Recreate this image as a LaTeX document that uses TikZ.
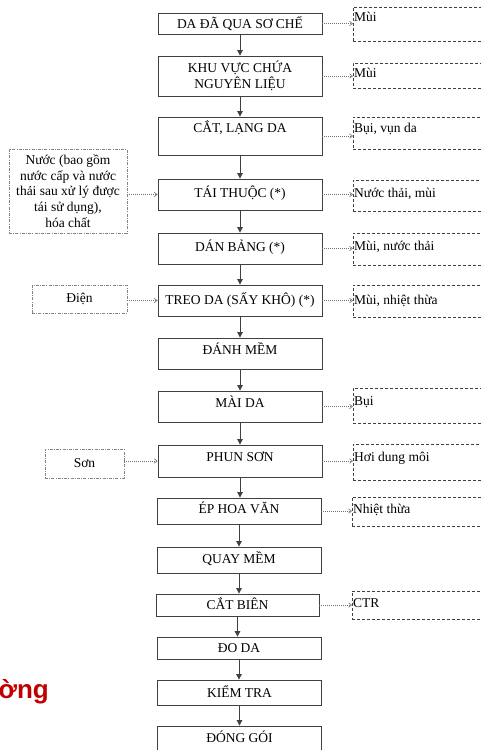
\documentclass[tikz,border=0pt]{standalone}
\usepackage{fontspec}
\setmainfont{Liberation Serif}
\newfontfamily\rsansfam{Liberation Sans}
\usetikzlibrary{arrows.meta}
\definecolor{boxc}{HTML}{404040}
\definecolor{rc}{HTML}{404040}
\definecolor{lc}{HTML}{858585}
\definecolor{dotc}{HTML}{707070}
\definecolor{redc}{HTML}{C00000}
\newcommand{\myfs}{\fontsize{13.5pt}{15.8pt}\selectfont}
\begin{document}
\begin{tikzpicture}[x=1pt,y=-1pt,
 proc/.style={draw=boxc, line width=0.8pt, minimum width=164pt, inner sep=0pt, align=center, font=\myfs},
 txtup/.style={text height=9pt, text depth=#1},
 rbox/.style={draw=rc, dash pattern=on 3pt off 2pt, line width=0.8pt, minimum width=160pt, inner sep=0pt, anchor=north west},
 rtxt/.style={font=\myfs, anchor=base west, inner sep=0pt},
 lbox/.style={draw=lc, dash pattern=on 3pt off 1.2pt on 1pt off 1.2pt, line width=0.7pt, inner sep=0pt, align=center, font=\myfs},
 varr/.style={draw=boxc, line width=0.8pt, -{Triangle[length=5.5pt,width=5.5pt]}},
 darr/.style={draw=dotc, line width=0.6pt, dash pattern=on 1pt off 1pt, -{Straight Barb[length=3pt,width=4.5pt]}}
]
\useasboundingbox (0,0) rectangle (481,750);
\clip (0,0) rectangle (481,750);

% main column
\node[proc, minimum height=21pt, txtup=0pt] (m1) at (240,23.5) {DA ĐÃ QUA SƠ CHẾ};
\node[proc, minimum height=40pt] (m2) at (240,76) {KHU VỰC CHỨA\\NGUYÊN LIỆU};
\node[proc, minimum height=38pt, txtup=16pt] (m3) at (240,136) {CẮT, LẠNG DA};
\node[proc, minimum height=31pt, txtup=3pt] (m4) at (240,194.5) {TÁI THUỘC (*)};
\node[proc, minimum height=31pt, txtup=3pt] (m5) at (240,248.5) {DÁN BẢNG (*)};
\node[proc, minimum height=31pt, txtup=1pt] (m6) at (240,300.5) {TREO DA (SẤY KHÔ) (*)};
\node[proc, minimum height=31pt, txtup=7pt] (m7) at (240,353.5) {ĐÁNH MỀM};
\node[proc, minimum height=31pt, txtup=7pt] (m8) at (240,406.5) {MÀI DA};
\node[proc, minimum height=32pt, txtup=8pt] (m9) at (240,461) {PHUN SƠN};
\node[proc, minimum height=26pt, txtup=4pt] (m10) at (239,511) {ÉP HOA VĂN};
\node[proc, minimum height=26pt, txtup=2pt] (m11) at (239,560) {QUAY MỀM};
\node[proc, minimum height=22pt, minimum width=163pt, txtup=0pt] (m12) at (237.5,605) {CẮT BIÊN};
\node[proc, minimum height=22pt, txtup=0pt] (m13) at (239,648) {ĐO DA};
\node[proc, minimum height=25pt, txtup=0pt] (m14) at (239.5,692.5) {KIỂM TRA};
\node[proc, minimum height=34pt, txtup=10pt] (m15) at (239.5,743) {ĐÓNG GÓI};

\foreach \a/\b in {m1/m2,m2/m3,m3/m4,m4/m5,m5/m6,m6/m7,m7/m8,m8/m9,m9/m10,m10/m11,m11/m12,m12/m13,m13/m14,m14/m15}
  \draw[varr] (\a.south) -- (\a.south |- \b.north);

% right boxes
\node[rbox, minimum height=34pt] (r1) at (353,7) {};
\node[rtxt] (t1) at (354,21.5) {Mùi};
\node[rbox, minimum height=25pt] (r2) at (353,63) {};
\node[rtxt] (t2) at (354,77.5) {Mùi};
\node[rbox, minimum height=32pt] (r3) at (353,117) {};
\node[rtxt] (t3) at (354,132.5) {Bụi, vụn da};
\node[rbox, minimum height=31pt] (r4) at (353,180) {};
\node[rtxt] (t4) at (354,197.5) {Nước thải, mùi};
\node[rbox, minimum height=32pt] (r5) at (353,233) {};
\node[rtxt] (t5) at (354,250.5) {Mùi, nước thải};
\node[rbox, minimum height=32pt] (r6) at (353,285) {};
\node[rtxt] (t6) at (354,304.5) {Mùi, nhiệt thừa};
\node[rbox, minimum height=35pt] (r7) at (353,388) {};
\node[rtxt] (t7) at (354,405.5) {Bụi};
\node[rbox, minimum height=36pt] (r8) at (353,444) {};
\node[rtxt] (t8) at (354,461.5) {Hơi dung môi};
\node[rbox, minimum height=29pt] (r9) at (352,497) {};
\node[rtxt] (t9) at (353,513.5) {Nhiệt thừa};
\node[rbox, minimum height=28pt] (r10) at (352,591) {};
\node[rtxt] (t10) at (353,607.5) {CTR};

\foreach \a/\b in {m1/r1,m2/r2,m3/r3,m4/r4,m5/r5,m6/r6,m8/r7,m9/r8,m10/r9,m12/r10}
  \draw[darr] (\a.east) -- (\a.east -| \b.west);

% left boxes
\node[lbox, minimum width=118pt, minimum height=84pt] (l1) at (68,191) {Nước (bao gồm\\nước cấp và nước\\thải sau xử lý được\\tái sử dụng),\\hóa chất};
\node[lbox, minimum width=95pt, minimum height=28pt] (l2) at (79.5,299) {Điện};
\node[lbox, minimum width=79pt, minimum height=29pt] (l3) at (84.5,463.5) {Sơn};

\draw[darr] (l1.east |- m4) -- (m4.west);
\draw[darr] (l2.east |- m6) -- (m6.west);
\draw[darr] (l3.east |- m9) -- (m9.west);

% red fragment
\node[font=\rsansfam\bfseries\fontsize{26pt}{28pt}\selectfont, text=redc, anchor=base east, inner sep=0pt] (red) at (49,698) {ờng};
\end{tikzpicture}
\end{document}
